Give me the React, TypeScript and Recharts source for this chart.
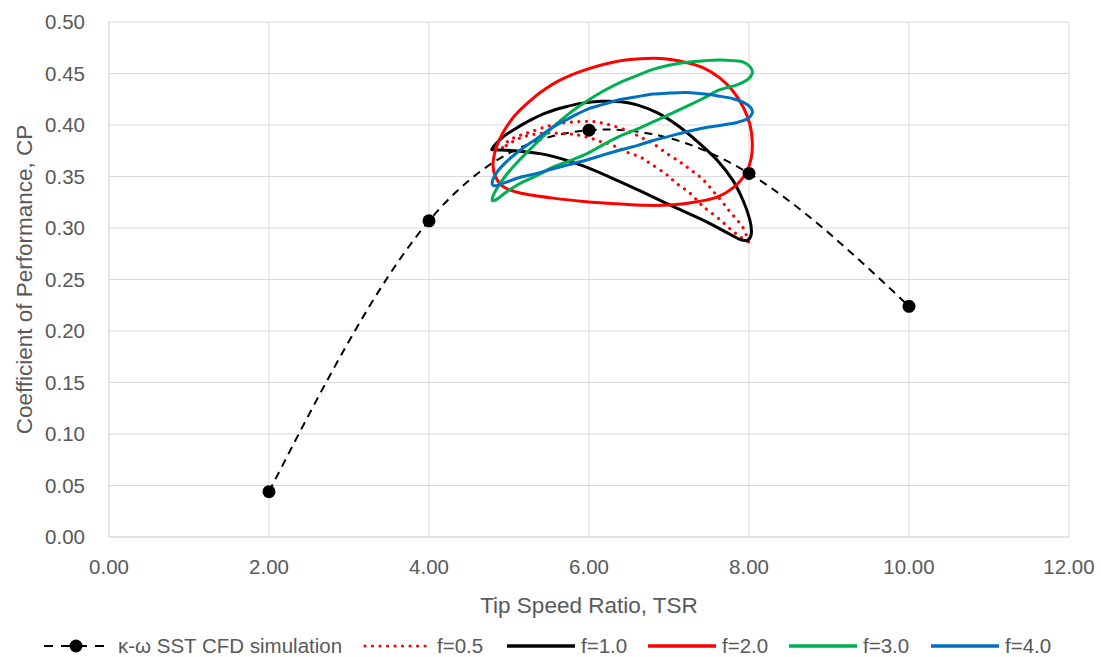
import React from 'react';
import { ComposedChart, Line, Scatter, XAxis, YAxis, CartesianGrid, Legend } from 'recharts';

// ---------- data ----------
const cfdTsr = [2, 4, 6, 8, 10];
const cfdCp = [0.044, 0.307, 0.395, 0.353, 0.224];

const f05Tsr = [4.92, 5.0, 5.14, 5.28, 5.45, 5.6, 5.8, 6.0, 6.16, 6.35, 6.51, 6.65, 6.8, 6.97, 7.14, 7.28, 7.43, 7.575, 7.68, 7.76, 7.85, 7.93, 7.98, 8.01,
  7.97, 7.89, 7.78, 7.64, 7.49, 7.41, 7.26, 7.1, 6.95, 6.74, 6.64, 6.51, 6.39, 6.24, 6.14, 6.03, 5.93, 5.8, 5.6, 5.41, 5.2, 5.05];
const f05Cp = [0.378, 0.385, 0.39, 0.3935, 0.398, 0.401, 0.403, 0.4035, 0.402, 0.398, 0.3935, 0.388, 0.382, 0.3725, 0.364, 0.356, 0.3466, 0.3337, 0.324, 0.316, 0.308, 0.2997, 0.29, 0.2835,
  0.288, 0.2915, 0.298, 0.308, 0.317, 0.322, 0.334, 0.343, 0.353, 0.364, 0.369, 0.3725, 0.377, 0.382, 0.384, 0.387, 0.389, 0.391, 0.392, 0.392, 0.389, 0.384];

const f10Tsr = [4.79, 4.92, 5.05, 5.25, 5.47, 5.7, 5.9, 6.15, 6.4, 6.6, 6.85, 7.1, 7.37, 7.6, 7.8, 7.93, 8.01, 8.03,
  7.99, 7.9, 7.76, 7.47, 7.05, 6.64, 6.3, 5.9, 5.47, 5.05, 4.84];
const f10Cp = [0.377, 0.388, 0.395, 0.404, 0.412, 0.4175, 0.421, 0.423, 0.4225, 0.4195, 0.412, 0.4, 0.383, 0.366, 0.346, 0.326, 0.308, 0.295,
  0.2885, 0.2885, 0.294, 0.306, 0.321, 0.336, 0.348, 0.361, 0.371, 0.375, 0.376];

const f20Tsr = [4.8, 4.84, 4.92, 5.05, 5.2, 5.4, 5.65, 5.97, 6.3, 6.6, 6.9, 7.2, 7.43, 7.63, 7.8, 7.93, 8.01, 8.04, 8.03, 7.96, 7.8, 7.6, 7.35, 7.05, 6.7, 6.35, 5.97, 5.55, 5.14, 4.93, 4.83];
const f20Cp = [0.362, 0.378, 0.392, 0.407, 0.419, 0.432, 0.444, 0.454, 0.461, 0.464, 0.4645, 0.461, 0.4555, 0.446, 0.433, 0.417, 0.401, 0.385, 0.369, 0.353, 0.339, 0.33, 0.3255, 0.3225, 0.322, 0.3235, 0.3255, 0.329, 0.334, 0.34, 0.35];

const f30Tsr = [4.79, 4.83, 4.95, 5.13, 5.35, 5.55, 5.75, 5.97, 6.18, 6.38, 6.6, 6.8, 7.0, 7.22, 7.45, 7.63, 7.8, 7.93, 8.02, 8.04,
  7.98, 7.85, 7.63, 7.43, 7.22, 7.0, 6.8, 6.6, 6.38, 6.18, 5.97, 5.75, 5.55, 5.35, 5.13, 4.95, 4.85];
const f30Cp = [0.327, 0.336, 0.35, 0.366, 0.383, 0.398, 0.411, 0.423, 0.433, 0.441, 0.448, 0.454, 0.458, 0.461, 0.4625, 0.463, 0.4625, 0.461, 0.456, 0.45,
  0.444, 0.439, 0.434, 0.426, 0.418, 0.41, 0.403, 0.396, 0.389, 0.381, 0.372, 0.365, 0.359, 0.351, 0.343, 0.334, 0.328];

const f40Tsr = [4.79, 4.83, 4.95, 5.13, 5.35, 5.55, 5.75, 5.97, 6.18, 6.38, 6.6, 6.8, 7.0, 7.22, 7.45, 7.63, 7.8, 7.93, 8.02, 8.04,
  7.98, 7.85, 7.63, 7.43, 7.22, 7.0, 6.8, 6.6, 6.38, 6.18, 5.97, 5.75, 5.55, 5.35, 5.13, 4.95, 4.84];
const f40Cp = [0.343, 0.352, 0.363, 0.375, 0.387, 0.398, 0.4065, 0.415, 0.42, 0.4245, 0.4275, 0.43, 0.431, 0.4315, 0.43, 0.428, 0.4255, 0.422, 0.417, 0.4115,
  0.406, 0.4025, 0.3995, 0.397, 0.3935, 0.389, 0.385, 0.38, 0.3755, 0.371, 0.366, 0.3615, 0.3575, 0.353, 0.349, 0.344, 0.341];

const xTicks = [0, 2, 4, 6, 8, 10, 12];
const yTicks = [0, 0.05, 0.1, 0.15, 0.2, 0.25, 0.3, 0.35, 0.4, 0.45, 0.5];

const seriesNames = ['κ-ω SST CFD simulation', 'f=0.5', 'f=1.0', 'f=2.0', 'f=3.0', 'f=4.0'];

const toPoints = (xs: number[], ys: number[]) => xs.map((x, i) => ({ x, y: ys[i] }));

const cfdData = toPoints(cfdTsr, cfdCp);
const f05Data = toPoints(f05Tsr, f05Cp);
const f10Data = toPoints(f10Tsr, f10Cp);
const f20Data = toPoints(f20Tsr, f20Cp);
const f30Data = toPoints(f30Tsr, f30Cp);
const f40Data = toPoints(f40Tsr, f40Cp);

// ---------- closed Catmull-Rom curve factory (smooth loop through points) ----------
function closedSmooth(context: any) {
  let pts: number[][] = [];
  return {
    areaStart() {},
    areaEnd() {},
    lineStart() { pts = []; },
    point(x: number, y: number) { pts.push([+x, +y]); },
    lineEnd() {
      const n = pts.length;
      if (!n) return;
      context.moveTo(pts[0][0], pts[0][1]);
      for (let i = 0; i < n; i++) {
        const p0 = pts[(i - 1 + n) % n];
        const p1 = pts[i];
        const p2 = pts[(i + 1) % n];
        const p3 = pts[(i + 2) % n];
        context.bezierCurveTo(
          p1[0] + (p2[0] - p0[0]) / 6, p1[1] + (p2[1] - p0[1]) / 6,
          p2[0] - (p3[0] - p1[0]) / 6, p2[1] - (p3[1] - p1[1]) / 6,
          p2[0], p2[1]
        );
      }
      context.closePath();
    },
  };
}

const TEXT = '#595959';
const GRID = '#d9d9d9';
const FONT = '"Liberation Sans", Arial, sans-serif';

const legendStyles = [
  { kind: 'cfd', color: '#000000', width: 319 },
  { kind: 'dot', color: '#FF0000', width: 144 },
  { kind: 'solid', color: '#000000', width: 141 },
  { kind: 'solid', color: '#FF0000', width: 141 },
  { kind: 'solid', color: '#00B050', width: 142 },
  { kind: 'solid', color: '#0070C0', width: 128 },
];

const renderLegend = () => (
  <div style={{ width: 1101, height: 35, position: 'relative', fontFamily: FONT }}>
    <div style={{ position: 'absolute', left: 44, top: 12, height: 24, display: 'flex', alignItems: 'center' }}>
      {legendStyles.map((s, i) => (
        <div key={i} style={{ width: s.width, display: 'flex', alignItems: 'center', height: 24 }}>
          <svg width={68} height={24} style={{ display: 'block' }}>
            {s.kind === 'cfd' && (
              <g>
                <line x1={0} y1={12} x2={68} y2={12} stroke="#000" strokeWidth={2} strokeDasharray="9 8" />
                <circle cx={32} cy={12} r={6.5} fill="#000" />
              </g>
            )}
            {s.kind === 'dot' && (
              <line x1={2} y1={12} x2={66} y2={12} stroke={s.color} strokeWidth={3.2} strokeDasharray="0.01 7.5" strokeLinecap="round" />
            )}
            {s.kind === 'solid' && (
              <line x1={0} y1={12} x2={68} y2={12} stroke={s.color} strokeWidth={3.5} />
            )}
          </svg>
          <span style={{ marginLeft: 6, fontSize: 20.5, color: TEXT, whiteSpace: 'nowrap' }}>{seriesNames[i]}</span>
        </div>
      ))}
    </div>
  </div>
);

const Marker = (p: any) => <circle cx={p.cx} cy={p.cy} r={6.5} fill="#000" />;

export default function App() {
  return (
    <div style={{ position: 'absolute', left: 0, top: 0, width: 1101, height: 657, background: '#fff', fontFamily: FONT }}>
      <ComposedChart width={1101} height={657} margin={{ top: 22, right: 32, bottom: 0, left: 0 }}>
        <CartesianGrid stroke={GRID} strokeWidth={1} />
        <XAxis
          dataKey="x"
          type="number"
          domain={[0, 12]}
          ticks={xTicks}
          interval={0}
          tickFormatter={(v: number) => v.toFixed(2)}
          height={85}
          axisLine={{ stroke: GRID }}
          tickLine={false}
          tickSize={0}
          tickMargin={22}
          tick={{ fill: TEXT, fontSize: 20.5 }}
          allowDataOverflow
          label={{ value: 'Tip Speed Ratio, TSR', position: 'insideBottom', offset: 9, fill: TEXT, fontSize: 22.5 }}
        />
        <YAxis
          type="number"
          domain={[0, 0.5]}
          ticks={yTicks}
          interval={0}
          tickFormatter={(v: number) => v.toFixed(2)}
          width={109}
          axisLine={{ stroke: GRID }}
          tickLine={false}
          tickSize={0}
          tickMargin={24}
          tick={{ fill: TEXT, fontSize: 20.5 }}
          allowDataOverflow
          label={{ value: 'Coefficient of Performance, CP', angle: -90, position: 'insideLeft', offset: 24, fill: TEXT, fontSize: 22.5, style: { textAnchor: 'middle' } }}
        />
        <Legend verticalAlign="bottom" height={35} content={renderLegend} wrapperStyle={{ left: 0, bottom: 0, width: 1101, height: 35 }} />
        <Line data={cfdData} dataKey="y" type="natural" stroke="#000" strokeWidth={2} strokeDasharray="8 6" dot={false} activeDot={false} isAnimationActive={false} name={seriesNames[0]} />
        <Line data={f05Data} dataKey="y" type={closedSmooth as any} stroke="#FF0000" strokeWidth={3.2} strokeDasharray="0.01 7.5" strokeLinecap="round" dot={false} activeDot={false} isAnimationActive={false} name={seriesNames[1]} />
        <Line data={f10Data} dataKey="y" type={closedSmooth as any} stroke="#000000" strokeWidth={3} dot={false} activeDot={false} isAnimationActive={false} name={seriesNames[2]} />
        <Line data={f20Data} dataKey="y" type={closedSmooth as any} stroke="#FF0000" strokeWidth={3} dot={false} activeDot={false} isAnimationActive={false} name={seriesNames[3]} />
        <Line data={f30Data} dataKey="y" type={closedSmooth as any} stroke="#00B050" strokeWidth={3} dot={false} activeDot={false} isAnimationActive={false} name={seriesNames[4]} />
        <Line data={f40Data} dataKey="y" type={closedSmooth as any} stroke="#0070C0" strokeWidth={3} dot={false} activeDot={false} isAnimationActive={false} name={seriesNames[5]} />
        <Scatter data={cfdData} dataKey="y" shape={Marker} isAnimationActive={false} legendType="none" />
      </ComposedChart>
    </div>
  );
}
